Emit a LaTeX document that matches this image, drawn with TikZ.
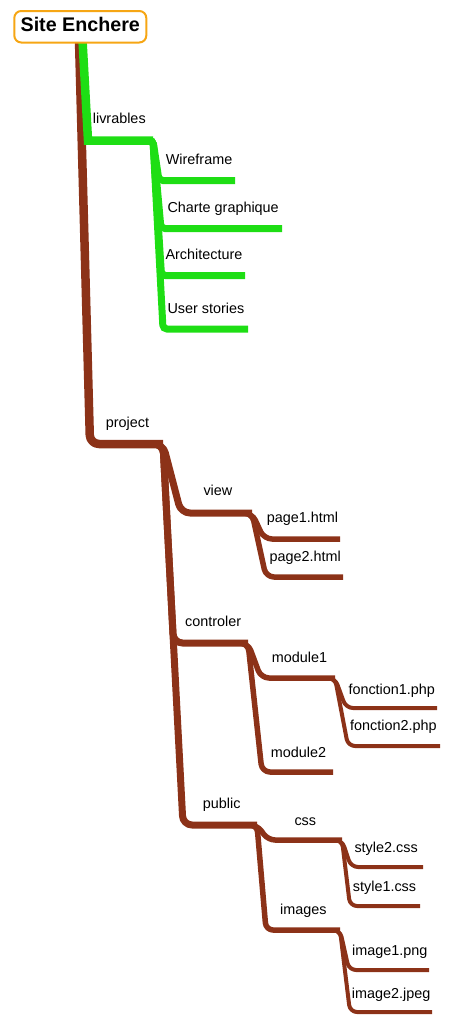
\documentclass[tikz,border=0pt]{standalone}
\usepackage{fontspec}
\setmainfont{Liberation Sans}
\definecolor{grn}{RGB}{30,222,20}
\definecolor{brn}{RGB}{140,50,24}
\definecolor{org}{RGB}{246,166,20}
\begin{document}
\begin{tikzpicture}[x=1pt,y=-1pt,
  lbl/.style={anchor=base west, inner sep=0pt, font=\fontsize{14.4}{17}\selectfont},
  Lone/.style={line width=8.5pt},
  Ltwo/.style={line width=7pt},
  Lthree/.style={line width=5.5pt},
  Lfour/.style={line width=4pt},
  gb/.style={grn, line cap=butt, line join=miter},
  bb/.style={brn, line cap=butt, line join=round},
  rootbox/.style={draw=org, line width=2pt, fill=white, rounded corners=7pt,
    anchor=base, minimum width=132pt, text height=20.7pt, text depth=10.8pt,
    inner ysep=0pt, font=\fontsize{19.7}{22}\selectfont\bfseries}]
\useasboundingbox (0,0) rectangle (461,1036);
% ---- coordinates
\coordinate (rg) at (82.5,40);
\coordinate (rb) at (79,40);
\coordinate (liv-c) at (88,140.5);   \coordinate (liv-e) at (153,140.5);
\coordinate (wire-c) at (159,180.5); \coordinate (wire-e) at (235,180.5);
\coordinate (chart-c) at (161,228.5);\coordinate (chart-e) at (282,228.5);
\coordinate (archi-c) at (161.5,275.5);\coordinate (archi-e) at (245,275.5);
\coordinate (user-c) at (163,329);   \coordinate (user-e) at (248,329);
\coordinate (proj-c) at (90,444);    \coordinate (proj-e) at (163,444);
\coordinate (view-c) at (181,513);   \coordinate (view-e) at (252,513);
\coordinate (pa1-c) at (264,539);    \coordinate (pa1-e) at (340,539);
\coordinate (pa2-c) at (266,577);    \coordinate (pa2-e) at (343,577);
\coordinate (ctrl-c) at (173.5,643); \coordinate (ctrl-e) at (248,643);
\coordinate (mod1-c) at (261,678);   \coordinate (mod1-e) at (335,678);
\coordinate (fon1-c) at (346,708);   \coordinate (fon1-e) at (437,708);
\coordinate (fon2-c) at (348,746);   \coordinate (fon2-e) at (440,746);
\coordinate (mod2-c) at (262,772);   \coordinate (mod2-e) at (333,772);
\coordinate (pub-c) at (183,825);    \coordinate (pub-e) at (257,825);
\coordinate (css-c) at (268,840);    \coordinate (css-e) at (342,840);
\coordinate (sty2-c) at (351,867);   \coordinate (sty2-e) at (423,867);
\coordinate (sty1-c) at (350,906);   \coordinate (sty1-e) at (420,906);
\coordinate (img-c) at (266,930);    \coordinate (img-e) at (340,930);
\coordinate (im1-c) at (349,970);    \coordinate (im1-e) at (429,970);
\coordinate (im2-c) at (350,1012);   \coordinate (im2-e) at (432,1012);
% ---- brown branch
\draw[bb, Lone, rounded corners=9pt] (rb) -- (proj-c) -- (proj-e);
\foreach \k in {pub,ctrl,view}
  \draw[bb, Ltwo, rounded corners=9pt] ([xshift=-12pt]proj-e) -- (proj-e) -- (\k-c) -- (\k-e);
\foreach \k in {pa2,pa1}
  \draw[bb, Lthree, rounded corners=8pt] ([xshift=-10pt]view-e) -- (view-e) -- (\k-c) -- (\k-e);
\foreach \k in {mod2,mod1}
  \draw[bb, Lthree, rounded corners=8pt] ([xshift=-10pt]ctrl-e) -- (ctrl-e) -- (\k-c) -- (\k-e);
\foreach \k in {fon2,fon1}
  \draw[bb, Lfour, rounded corners=7pt] ([xshift=-10pt]mod1-e) -- (mod1-e) -- (\k-c) -- (\k-e);
\foreach \k in {img,css}
  \draw[bb, Lthree, rounded corners=7pt] ([xshift=-10pt]pub-e) -- (pub-e) -- (\k-c) -- (\k-e);
\foreach \k in {sty1,sty2}
  \draw[bb, Lfour, rounded corners=7pt] ([xshift=-10pt]css-e) -- (css-e) -- (\k-c) -- (\k-e);
\foreach \k in {im2,im1}
  \draw[bb, Lfour, rounded corners=7pt] ([xshift=-10pt]img-e) -- (img-e) -- (\k-c) -- (\k-e);
% ---- green branch
\draw[gb, Lone] (rg) -- (liv-c) -- (liv-e);
\foreach \k in {user,archi,chart,wire}
  \draw[gb, Ltwo, rounded corners=4pt] ([xshift=-8pt]liv-e) -- (liv-e) -- (\k-c) -- (\k-e);
% ---- root
\node[rootbox] (root) at (80.3,31.7) {Site Enchere};
% ---- labels
\node[lbl] (liv) at (92.7,123.3) {livrables};
\node[lbl] (wire) at (165.7,164) {Wireframe};
\node[lbl] (chart) at (167.3,212.3) {Charte graphique};
\node[lbl] (archi) at (165.3,259) {Architecture};
\node[lbl] (user) at (167.3,313.3) {User stories};
\node[lbl] (proj) at (105.7,427) {project};
\node[lbl] (view) at (203.3,495.7) {view};
\node[lbl] (pa1) at (266.7,522.7) {page1.html};
\node[lbl] (pa2) at (269.3,561.7) {page2.html};
\node[lbl] (ctrl) at (185,626.7) {controler};
\node[lbl] (mod1) at (271.7,662.3) {module1};
\node[lbl] (fon1) at (348.3,694) {fonction1.php};
\node[lbl] (fon2) at (350,730.7) {fonction2.php};
\node[lbl] (mod2) at (270.7,757.3) {module2};
\node[lbl] (pub) at (202.7,808.3) {public};
\node[lbl] (css) at (294.3,825) {css};
\node[lbl] (sty2) at (354.3,852.3) {style2.css};
\node[lbl] (sty1) at (352.7,891) {style1.css};
\node[lbl] (img) at (280,914.3) {images};
\node[lbl] (im1) at (352,955) {image1.png};
\node[lbl] (im2) at (351.7,998.3) {image2.jpeg};
\end{tikzpicture}
\end{document}
